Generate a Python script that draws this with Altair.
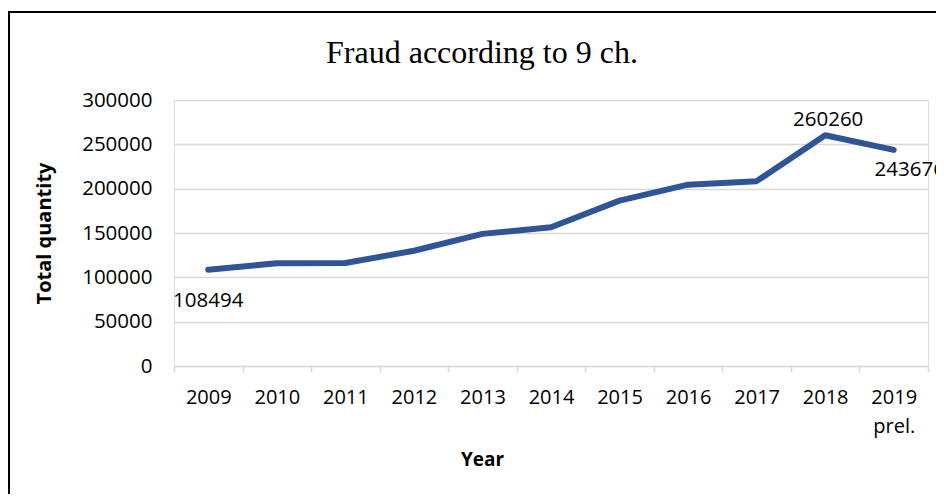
import altair as alt
import pandas as pd

years = ["2009", "2010", "2011", "2012", "2013", "2014", "2015", "2016", "2017", "2018", "2019 prel."]
quantity = [108494, 116000, 116100, 130000, 149000, 156500, 186500, 204500, 208500, 260260, 243676]

label_below = ["2009"]
label_above = ["2018"]
label_below_right = ["2019 prel."]

df = pd.DataFrame({"Year": years, "Total": quantity})

FONT = "Open Sans"
GRID = "#D9D9D9"
LINE = "#2F5597"

x_enc = alt.X(
    "Year:O",
    sort=years,
    scale=alt.Scale(type="band", paddingInner=0, paddingOuter=0),
    axis=alt.Axis(
        title="Year",
        labelAngle=0,
        labelExpr="isValid(datum.value) ? split(datum.value, ' ') : ''",
        labelFont=FONT,
        labelFontSize=20,
        labelColor="#000000",
        labelLineHeight=29,
        labelBaseline="top",
        labelPadding=15,
        tickBand="extent",
        tickSize=6,
        tickColor=GRID,
        tickWidth=1.5,
        domainColor=GRID,
        domainWidth=1.5,
        grid=False,
        titleFont=FONT,
        titleFontSize=19,
        titleFontWeight="bold",
        titleColor="#000000",
        titleX=308,
        titleY=93,
        titleBaseline="middle",
        titleAlign="center",
    ),
)

y_enc = alt.Y(
    "Total:Q",
    scale=alt.Scale(domain=[0, 300000], nice=False),
    axis=alt.Axis(
        title="Total quantity",
        values=[0, 50000, 100000, 150000, 200000, 250000, 300000],
        format="d",
        domain=False,
        ticks=False,
        tickSize=0,
        labelFont=FONT,
        labelFontSize=20.5,
        labelColor="#000000",
        labelPadding=22,
        gridColor=GRID,
        gridWidth=1.5,
        titleFont=FONT,
        titleFontSize=20,
        titleFontWeight="bold",
        titleColor="#000000",
        titleAngle=-90,
        titleX=-130,
        titleY=133,
        titleBaseline="middle",
        titleAlign="center",
    ),
)

base = alt.Chart(df)

line = base.mark_line(
    color=LINE, strokeWidth=6, strokeCap="round", strokeJoin="round"
).encode(x=x_enc, y=y_enc)

def labels(sel, dx, dy):
    return base.transform_filter(
        alt.FieldOneOfPredicate(field="Year", oneOf=sel)
    ).mark_text(
        font=FONT, fontSize=20.5, color="#000000", dx=dx, dy=dy, baseline="middle", align="center"
    ).encode(x=alt.X("Year:O", sort=years), y="Total:Q", text=alt.Text("Total:Q", format="d"))

lab1 = labels(label_below, 0, 31)
lab2 = labels(label_above, 3, -15)
lab3 = labels(label_below_right, 16, 20)

frame_top = base.mark_rule(color="#000000", strokeWidth=2).encode(
    x=alt.value(-166), x2=alt.value(770), y=alt.value(-88)
)
frame_left = base.mark_rule(color="#000000", strokeWidth=2).encode(
    x=alt.value(-165), y=alt.value(-88), y2=alt.value(400)
)

chart = alt.layer(line, lab1, lab2, lab3, frame_top, frame_left).properties(
    width=754,
    height=266,
    autosize=alt.AutoSizeParams(type="none"),
    padding={"left": 166, "top": 92, "right": 8, "bottom": 128},
    title=alt.TitleParams(
        "Fraud according to 9 ch.",
        font="Liberation Serif",
        fontSize=32,
        fontWeight="normal",
        color="#000000",
        anchor="middle",
        frame="group",
        baseline="alphabetic",
        dx=-69,
        offset=-84,
    ),
).configure_view(stroke=None).configure(background="white")

chart.save("out.html", embed_options={"renderer": "svg", "actions": False})
